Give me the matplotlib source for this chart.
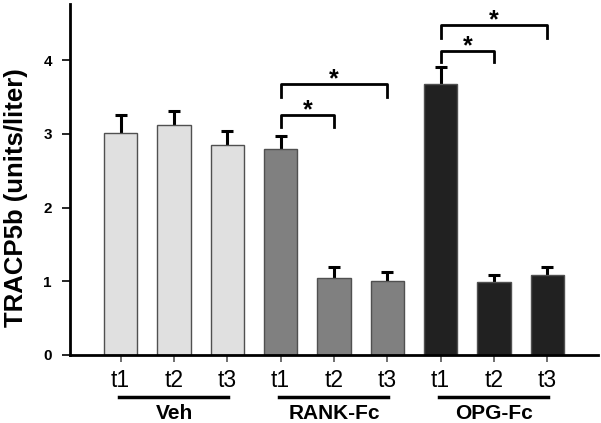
import matplotlib
matplotlib.use("Agg")
import matplotlib.pyplot as plt
import numpy as np

plt.rcParams['font.family'] = ['Liberation Sans', 'DejaVu Sans']

# data
groups = ['Veh', 'RANK-Fc', 'OPG-Fc']
times = ['t1', 't2', 't3']
means = [3.01, 3.12, 2.85, 2.80, 1.05, 1.00, 3.68, 0.99, 1.08]
errs = [0.24, 0.19, 0.19, 0.17, 0.14, 0.12, 0.23, 0.10, 0.12]
colors = ['#e0e0e0'] * 3 + ['#808080'] * 3 + ['#212121'] * 3

# brackets: (from bar, to bar, height, leg bottom)
brackets = [(3, 4, 3.26, 3.09), (3, 5, 3.68, 3.50),
            (6, 7, 4.12, 3.97), (6, 8, 4.48, 4.30)]

fig = plt.figure(figsize=(6.01, 4.23), dpi=100)
ax = fig.add_axes([0.1165, 0.1608, 0.8785, 0.8297])

x = np.arange(len(means))
# error bars drawn under the bars so only the upper half shows
ax.errorbar(x, means, yerr=errs, fmt='none', ecolor='black',
            elinewidth=2.2, capsize=4.5, capthick=2.2, zorder=1)
ax.bar(x, means, width=0.62, color=colors, edgecolor='#505050', linewidth=1.0, zorder=2)

ax.set_xlim(-0.95, 8.95)
ax.set_ylim(0, 4.76)
ax.set_yticks([0, 1, 2, 3, 4])
ax.set_xticks(x)
ax.set_xticklabels(times * 3, fontsize=16.5)
for lab in ax.get_yticklabels():
    lab.set_fontweight('bold')
ax.tick_params(axis='y', labelsize=11, width=1.2, length=6, direction='out', pad=7)
ax.tick_params(axis='x', width=1.2, length=5, direction='out', pad=5, color='#555555')
ax.set_ylabel('TRACP5b (units/liter)', fontsize=18.5, fontweight='bold')
ax.yaxis.set_label_coords(-0.08, 0.447)

for s in ['top', 'right']:
    ax.spines[s].set_visible(False)
ax.spines['left'].set_linewidth(2)
ax.spines['bottom'].set_linewidth(2)

# group underlines and names
for i, g in enumerate(groups):
    a, b = 3 * i, 3 * i + 2
    ax.plot([a - 0.03, b + 0.02], [-0.57, -0.57], color='black', lw=2.5, clip_on=False)
    ax.text((a + b) / 2, -0.80, g, ha='center', va='center', fontsize=15,
            fontweight='bold', clip_on=False)

# significance brackets
for a, b, h, lo in brackets:
    ax.plot([a, a, b, b], [lo, h, h, lo], color='black', lw=2, zorder=4)
    ax.text((a + b) / 2, h - 0.1, '*', ha='center', va='bottom', fontsize=18,
            fontweight='bold')

fig.savefig('out.png', dpi=100)
